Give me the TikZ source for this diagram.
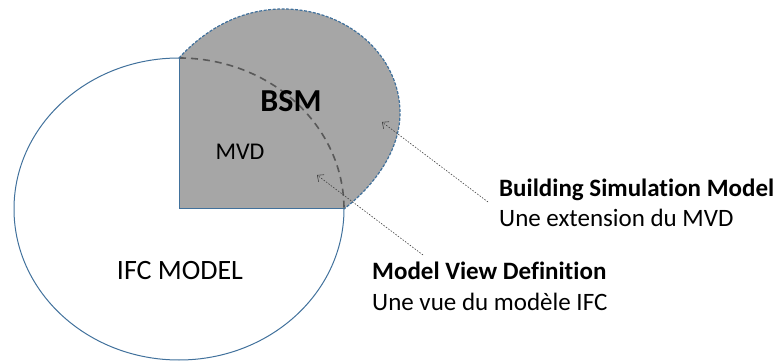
\documentclass[tikz,border=0pt]{standalone}
\usepackage{fontspec}
\setmainfont{Carlito}[Ligatures={NoCommon,NoContextual}]
\usepackage{tikz}
\usetikzlibrary{arrows.meta,positioning}
\definecolor{edgeblue}{HTML}{41719C}
\definecolor{bsmgrey}{HTML}{A6A6A6}
\definecolor{arcgrey}{HTML}{595959}
\definecolor{notegrey}{HTML}{404040}

\begin{document}
\begin{tikzpicture}[
  x=1pt, y=1pt,
  label/.style={inner sep=0pt, text=black},
  note/.style={inner sep=0pt, anchor=base west, font=\fontsize{25}{30}\selectfont},
  notetitle/.style={note, font=\fontsize{25}{30}\selectfont\bfseries},
  outline/.style={draw=edgeblue, line width=1pt},
  pointer/.style={draw=notegrey, dash pattern=on 1.5pt off 1.5pt, line width=0.6pt, -{Straight Barb[length=5pt,width=9pt]}}
]
\useasboundingbox (0,0) rectangle (780,362);

\coordinate (corner) at (179,153);
\coordinate (top) at (179,304);
\coordinate (right) at (344,153);

% IFC model
\draw[outline] (corner) ellipse[x radius=165, y radius=151];

% BSM extension
\fill[bsmgrey] (corner) -- (top) .. controls (200,327) and (235,353) .. (283,353)
  .. controls (348,353) and (400,306) .. (400,249)
  .. controls (400,212) and (375,177) .. (right) -- cycle;
\draw[arcgrey, line width=1.6pt, dash pattern=on 7pt off 5pt] (top) arc[start angle=90, end angle=0, x radius=165, y radius=151];
\draw[outline] (top) -- (corner) -- (right);
\draw[edgeblue, line width=1.2pt, dash pattern=on 3pt off 1.5pt] (top) .. controls (200,327) and (235,353) .. (283,353)
  .. controls (348,353) and (400,306) .. (400,249)
  .. controls (400,212) and (375,177) .. (right);

\node[label, font=\fontsize{32}{38}\selectfont\bfseries] (bsm) at (291,261) {BSM};
\node[label, font=\fontsize{24}{29}\selectfont] (mvd) at (240,210) {MVD};
\node[label, font=\fontsize{28}{34}\selectfont] (ifc) at (180,91) {IFC MODEL};

% notes
\node[notetitle] (bsmtitle) at (499,165) {Building Simulation Model};
\node[note] (bsmtext) at ([yshift=-30pt]bsmtitle.base west) {Une extension du MVD};
\node[notetitle] (mvdtitle) at (372,82) {Model View Definition};
\node[note] (mvdtext) at ([yshift=-30pt]mvdtitle.base west) {Une vue du modèle IFC};

\coordinate (bsmtip) at (382,240);
\coordinate (mvdtip) at (317,187);
\draw[pointer] ([shift={(-11,-5)}]bsmtitle.base west) -- (bsmtip);
\draw[pointer] ([shift={(51,25)}]mvdtitle.base west) -- (mvdtip);
\end{tikzpicture}
\end{document}
